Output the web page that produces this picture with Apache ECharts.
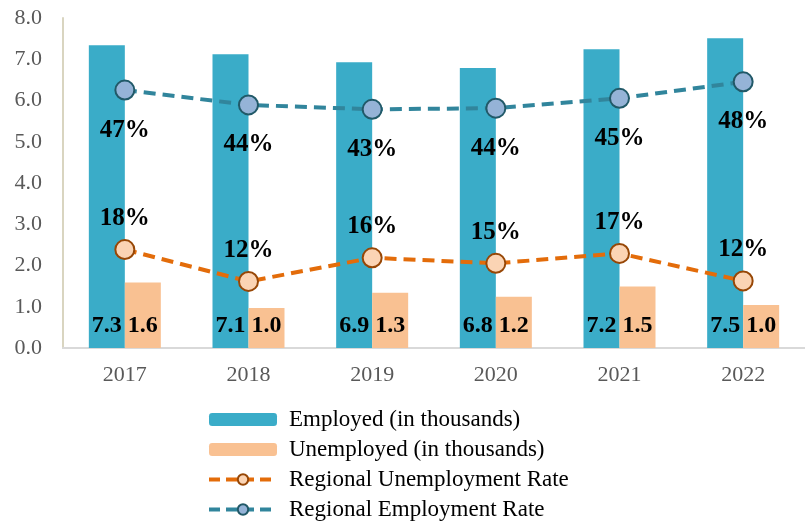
<!DOCTYPE html>
<html>
<head>
<meta charset="utf-8">
<script src="https://cdn.jsdelivr.net/npm/echarts@6/dist/echarts.min.js"></script>
<style>
	html, body { margin: 0; padding: 0; background: #fff; }
	#chart { width: 805px; height: 521px; }
</style>
</head>
<body>
<div id="chart"></div>
<script>
const years = ['2017', '2018', '2019', '2020', '2021', '2022'];
const employed = [7.34, 7.12, 6.93, 6.79, 7.24, 7.51];
const unemployed = [1.59, 0.97, 1.34, 1.24, 1.49, 1.04];
const unemploymentRate = [17.9, 12.1, 16.4, 15.4, 17.2, 12.2];
const employmentRate = [46.9, 44.2, 43.4, 43.6, 45.4, 48.4];

document.addEventListener('DOMContentLoaded', () => {
	const chart = echarts.init(document.querySelector('#chart'));
	const serif = '"Liberation Serif", "DejaVu Serif", serif';
	/* 柱子上的数字 */
	const barLabel = {
		show: true,
		position: 'insideBottom',
		distance: 10,
		color: '#000',
		fontFamily: serif,
		fontWeight: 'bold',
		fontSize: 24,
		formatter: p => p.value.toFixed(1)
	};
	const rateLabel = (pos, dist) => ({
		show: true,
		position: pos,
		distance: dist,
		color: '#000',
		fontFamily: serif,
		fontWeight: 'bold',
		fontSize: 25,
		formatter: p => Math.round(p.value) + '%'
	});
	chart.setOption({
		animation: false,
		grid: {
			left: 63,
			right: -8,
			top: 18,
			bottom: 173
		},
		legend: {
			orient: 'vertical',
			left: 207,
			top: 408,
			padding: 0,
			itemWidth: 68,
			itemHeight: 13,
			itemGap: 7,
			lineStyle: { width: 4, type: [11, 6] },
			textStyle: {
				fontFamily: serif,
				fontSize: 23,
				lineHeight: 22,
				padding: [0, 0, 0, 7],
				color: '#000'
			},
			data: ['Employed (in thousands)', 'Unemployed (in thousands)', 'Regional Unemployment Rate', 'Regional Employment Rate']
		},
		xAxis: {
			type: 'category',
			data: years,
			axisTick: { show: false },
			axisLine: { lineStyle: { color: '#d9d9d9', width: 2 } },
			axisLabel: {
				margin: 16,
				color: '#595959',
				fontFamily: serif,
				fontSize: 22
			}
		},
		yAxis: [
			{
				type: 'value',
				min: 0,
				max: 8,
				interval: 1,
				splitLine: { show: false },
				axisLine: { show: true, lineStyle: { color: '#d9d5c0', width: 2 } },
				axisLabel: {
					margin: 21,
					color: '#595959',
					fontFamily: serif,
					fontSize: 22,
					formatter: v => v.toFixed(1)
				}
			},
			{
				type: 'value',
				min: 0,
				max: 60,
				show: false
			}
		],
		series: [
			{
				name: 'Employed (in thousands)',
				type: 'bar',
				barWidth: 36,
				barGap: '0%',
				itemStyle: { color: '#3aacc8' },
				label: barLabel,
				data: employed
			},
			{
				name: 'Unemployed (in thousands)',
				type: 'bar',
				barWidth: 36,
				barGap: '0%',
				itemStyle: { color: '#f9c192' },
				label: barLabel,
				data: unemployed
			},
			{
				name: 'Regional Unemployment Rate',
				type: 'line',
				yAxisIndex: 1,
				symbol: 'circle',
				symbolSize: 19,
				lineStyle: { color: '#e36c0a', width: 4, type: [12, 7] },
				itemStyle: { color: '#fbd4b4', borderColor: '#974706', borderWidth: 2 },
				label: rateLabel('top', 8),
				z: 3,
				data: unemploymentRate
			},
			{
				name: 'Regional Employment Rate',
				type: 'line',
				yAxisIndex: 1,
				symbol: 'circle',
				symbolSize: 19,
				lineStyle: { color: '#31859c', width: 4, type: [12, 7] },
				itemStyle: { color: '#95b3d7', borderColor: '#215968', borderWidth: 2 },
				label: rateLabel('bottom', 17),
				z: 3,
				data: employmentRate
			}
		]
	});
});
</script>
</body>
</html>
